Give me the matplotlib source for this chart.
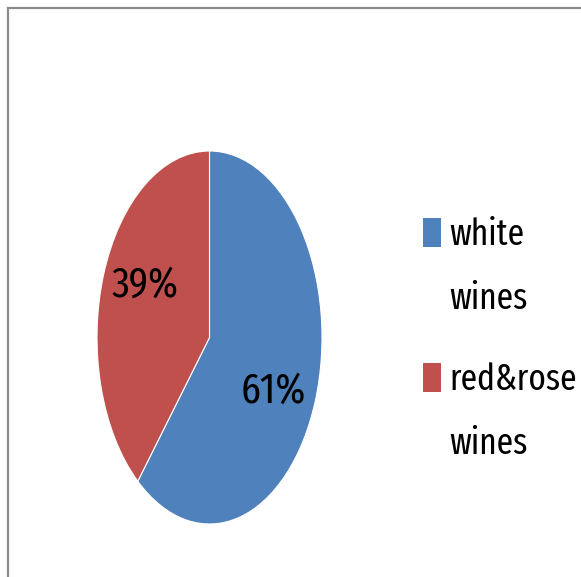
import matplotlib.pyplot as plt
from matplotlib.lines import Line2D
from matplotlib.patches import Rectangle

labels = ["white\nwines", "red&rose\nwines"]
shares = [61, 39]
colors = ["#4F81BD", "#C0504D"]

plt.rcParams['font.family'] = ['Fira Sans Extra Condensed', 'DejaVu Sans']

W, H = 581, 577
fig = plt.figure(figsize=(W / 100, H / 100), dpi=100)

# chart area frame (left and top edges only show)
fig.add_artist(Line2D([8 / W, 8 / W], [-0.05, 1 - 8 / H], color="#8c8c8c", lw=1.6))
fig.add_artist(Line2D([8 / W, 1.05], [1 - 8 / H, 1 - 8 / H], color="#8c8c8c", lw=1.6))

# pie, squeezed into a tall box so it draws as an ellipse
ax = fig.add_axes([97 / W, (H - 524) / H, 225 / W, 373 / H])
wedges, texts, autotexts = ax.pie(
    shares, colors=colors, startangle=90, counterclock=False,
    autopct='%d%%', pctdistance=0.62,
    wedgeprops=dict(edgecolor="white", linewidth=0.8),
    textprops=dict(fontsize=31, color="black"))
ax.set_aspect('auto')
ax.set_xlim(-1, 1)
ax.set_ylim(-1, 1)
autotexts[0].set_position((0.57, -0.29))
autotexts[1].set_position((-0.57, 0.28))

# legend on the right
ys = [218, 363]
for lab, col, y in zip(labels, colors, ys):
    fig.add_artist(Rectangle((423 / W, 1 - (y + 29) / H), 18 / W, 29 / H,
                             transform=fig.transFigure, facecolor=col,
                             edgecolor="none"))
    fig.text(449 / W, 1 - (y - 1) / H, lab, fontsize=26, va="top",
             ha="left", linespacing=2.0)

fig.savefig("out.png", dpi=100)
